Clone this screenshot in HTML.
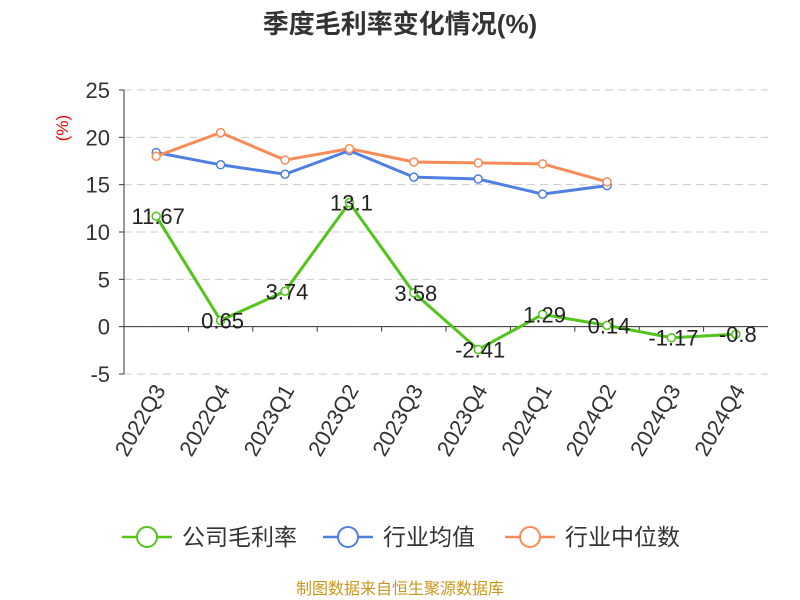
<!DOCTYPE html>
<html><head><meta charset="utf-8"><style>
body{margin:0;background:#fff;font-family:"Liberation Sans","Noto Sans CJK SC",sans-serif;}
</style></head><body>
<svg id="chart" width="800" height="600" xmlns="http://www.w3.org/2000/svg" style="display:block"></svg>
<script>
const categories=["2022Q3","2022Q4","2023Q1","2023Q2","2023Q3","2023Q4","2024Q1","2024Q2","2024Q3","2024Q4"];
const companyMargin=[11.67,0.65,3.74,13.1,3.58,-2.41,1.29,0.14,-1.17,-0.8];
const industryAvg=[18.4,17.1,16.1,18.6,15.8,15.6,14.0,14.9];
const industryMedian=[18.0,20.5,17.6,18.8,17.4,17.3,17.2,15.3];
const yTicks=[-5,0,5,10,15,20,25];
const svg=document.getElementById('chart');
const NS='http://www.w3.org/2000/svg';
const L=124,R=768,T=90,B=374,yMin=-5,yMax=25;
const bw=(R-L)/categories.length;
const x=i=>L+bw*(i+0.5);
const y=v=>B-(v-yMin)/(yMax-yMin)*(B-T);
function mk(tag,attrs,parent){const e=document.createElementNS(NS,tag);for(const k in attrs)e.setAttribute(k,attrs[k]);(parent||svg).appendChild(e);return e;}
let t=mk('text',{x:400,y:33,'text-anchor':'middle','font-size':26,'font-weight':'bold',fill:'#333'});t.textContent='季度毛利率变化情况(%)';


t=mk('text',{x:68,y:128,'text-anchor':'middle','font-size':17,fill:'#e00',transform:'rotate(-90 68 128)'});t.textContent='(%)';


yTicks.forEach(v=>{
 const g=mk('line',{x1:L,x2:R,y1:y(v),y2:y(v),stroke:'#ccc','stroke-dasharray':'8,5'});
 
 
 const tk=mk('line',{x1:L-5,x2:L,y1:y(v),y2:y(v),stroke:'#333'});
 
 
 const lb=mk('text',{x:L-14,y:y(v)+8,'text-anchor':'end','font-size':22,fill:'#333'});lb.textContent=v;
 
 
});
let ax=mk('line',{x1:L,x2:L,y1:T,y2:B,stroke:'#333'});


ax=mk('line',{x1:L,x2:R,y1:y(0),y2:y(0),stroke:'#333'});


categories.forEach((c,i)=>{
 const tk=mk('line',{x1:L+bw*i,x2:L+bw*i,y1:y(0),y2:y(0)+5,stroke:'#333'});
 
 
 const px=x(i)+10,py=390;
 const lb=mk('text',{x:px,y:py,'text-anchor':'end','font-size':22,fill:'#333',transform:`rotate(-60 ${px} ${py})`});lb.textContent=c;
 
 
});
function series(vals,color,name,labels){
 const pts=vals.map((v,i)=>x(i)+','+y(v)).join(' ');
 const pl=mk('polyline',{points:pts,fill:'none',stroke:color,'stroke-width':3});
 
 
 vals.forEach((v,i)=>{
  const c=mk('circle',{cx:x(i),cy:y(v),r:4,fill:'#fff',stroke:color,'stroke-width':1.5});
  
  
  if(labels){const lb=mk('text',{x:x(i)+2,y:y(v)+8,'text-anchor':'middle','font-size':22,fill:'#222'});lb.textContent=v;
   
   }
 });
}
series(industryAvg,'#4f7fe0','industry-avg',false);
series(industryMedian,'#f98b58','industry-median',false);
series(companyMargin,'#52c41a','company-margin',true);
const leg=[['公司毛利率','#52c41a',122],['行业均值','#4f7fe0',323],['行业中位数','#f98b58',505]];
leg.forEach(([n,c,lx])=>{
 const g=mk('g',{});
 
 
 mk('line',{x1:lx,x2:lx+50,y1:537,y2:537,stroke:c,'stroke-width':2.5},g);
 mk('circle',{cx:lx+25,cy:537,r:10,fill:'#fff',stroke:c,'stroke-width':2},g);
 const tx=mk('text',{x:lx+60,y:545,'font-size':23,fill:'#333'},g);tx.textContent=n;
});
t=mk('text',{x:400,y:594,'text-anchor':'middle','font-size':16,fill:'#c8961e'});t.textContent='制图数据来自恒生聚源数据库';


</script>
</body></html>
